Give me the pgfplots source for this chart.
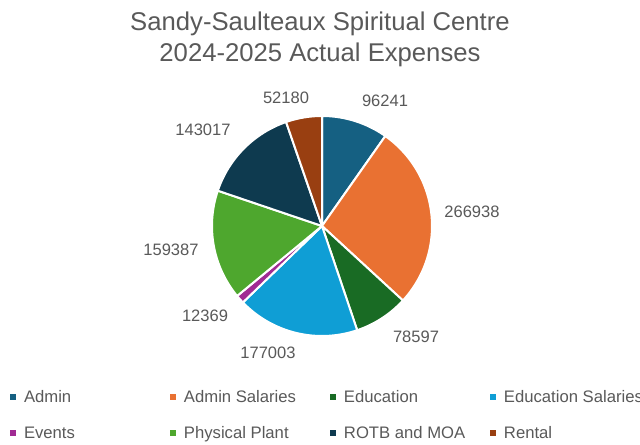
\documentclass[border=0pt]{standalone}
\usepackage{fontspec}
\setmainfont{Liberation Sans}
\usepackage{pgfplots}
\pgfplotsset{compat=1.18}

\definecolor{cA}{HTML}{156082}
\definecolor{cB}{HTML}{E97132}
\definecolor{cC}{HTML}{196B24}
\definecolor{cD}{HTML}{0F9ED5}
\definecolor{cE}{HTML}{A02B93}
\definecolor{cF}{HTML}{4EA72E}
\definecolor{cG}{HTML}{0E3A4F}
\definecolor{cH}{HTML}{993F11}
\definecolor{txtgray}{HTML}{595959}

% data (expenses)
\newcommand\vA{96241}   % Admin
\newcommand\vB{266938}  % Admin Salaries
\newcommand\vC{78597}   % Education
\newcommand\vD{177003}  % Education Salaries
\newcommand\vE{12369}   % Events
\newcommand\vF{159387}  % Physical Plant
\newcommand\vG{143017}  % ROTB and MOA
\newcommand\vH{52180}   % Rental

\edef\T{\fpeval{\vA+\vB+\vC+\vD+\vE+\vF+\vG+\vH}}
\edef\aA{\fpeval{round(90-360*(\vA)/\T,4)}}
\edef\aB{\fpeval{round(90-360*(\vA+\vB)/\T,4)}}
\edef\aC{\fpeval{round(90-360*(\vA+\vB+\vC)/\T,4)}}
\edef\aD{\fpeval{round(90-360*(\vA+\vB+\vC+\vD)/\T,4)}}
\edef\aE{\fpeval{round(90-360*(\vA+\vB+\vC+\vD+\vE)/\T,4)}}
\edef\aF{\fpeval{round(90-360*(\vA+\vB+\vC+\vD+\vE+\vF)/\T,4)}}
\edef\aG{\fpeval{round(90-360*(\vA+\vB+\vC+\vD+\vE+\vF+\vG)/\T,4)}}
\edef\aH{\fpeval{round(90-360*(\vA+\vB+\vC+\vD+\vE+\vF+\vG+\vH)/\T,4)}}

\def\cx{322}
\def\cy{219}
\def\R{110}

\pgfplotsset{
  sqlegend/.style={legend image code/.code={\fill[##1, draw=none] (0pt,-2pt) rectangle (4.5pt,2pt);}},
  slice/.style={forget plot, fill=#1, draw=white, line width=1.5pt, line join=round, samples=61, variable=\t},
}

\begin{document}
\begin{tikzpicture}
\useasboundingbox (0,0) rectangle (480pt,333.75pt);
\begin{axis}[
  at={(0,0)}, anchor=south west,
  x=0.75pt, y=0.75pt,
  xmin=0, xmax=640, ymin=0, ymax=445,
  hide axis, clip=false, enlargelimits=false,
  legend columns=4,
  legend cell align=left,
  legend style={draw=none, fill=none, at={(axis cs:10,56)}, anchor=north west,
    inner sep=0pt, outer sep=0pt, row sep=15pt, column sep=0pt,
    font=\fontsize{12.5}{15}\selectfont, text=txtgray,
    nodes={inner sep=0pt, outer sep=0pt},
    /tikz/every odd column/.append style={column sep=6pt}},
]
\addplot[slice=cA, domain=\aA:90] ({\cx+\R*cos(\t)},{\cy+\R*sin(\t)}) -- (axis cs:\cx,\cy) -- cycle;
\addplot[slice=cB, domain=\aB:\aA] ({\cx+\R*cos(\t)},{\cy+\R*sin(\t)}) -- (axis cs:\cx,\cy) -- cycle;
\addplot[slice=cC, domain=\aC:\aB] ({\cx+\R*cos(\t)},{\cy+\R*sin(\t)}) -- (axis cs:\cx,\cy) -- cycle;
\addplot[slice=cD, domain=\aD:\aC] ({\cx+\R*cos(\t)},{\cy+\R*sin(\t)}) -- (axis cs:\cx,\cy) -- cycle;
\addplot[slice=cE, domain=\aE:\aD] ({\cx+\R*cos(\t)},{\cy+\R*sin(\t)}) -- (axis cs:\cx,\cy) -- cycle;
\addplot[slice=cF, domain=\aF:\aE] ({\cx+\R*cos(\t)},{\cy+\R*sin(\t)}) -- (axis cs:\cx,\cy) -- cycle;
\addplot[slice=cG, domain=\aG:\aF] ({\cx+\R*cos(\t)},{\cy+\R*sin(\t)}) -- (axis cs:\cx,\cy) -- cycle;
\addplot[slice=cH, domain=\aH:\aG] ({\cx+\R*cos(\t)},{\cy+\R*sin(\t)}) -- (axis cs:\cx,\cy) -- cycle;

\addlegendimage{sqlegend, fill=cA}\addlegendentry{\makebox[109.5pt][l]{\strut Admin}}
\addlegendimage{sqlegend, fill=cB}\addlegendentry{\makebox[109.5pt][l]{\strut Admin Salaries}}
\addlegendimage{sqlegend, fill=cC}\addlegendentry{\makebox[109.5pt][l]{\strut Education}}
\addlegendimage{sqlegend, fill=cD}\addlegendentry{\makebox[109.5pt][l]{\strut Education Salaries}}
\addlegendimage{sqlegend, fill=cE}\addlegendentry{\makebox[109.5pt][l]{\strut Events}}
\addlegendimage{sqlegend, fill=cF}\addlegendentry{\makebox[109.5pt][l]{\strut Physical Plant}}
\addlegendimage{sqlegend, fill=cG}\addlegendentry{\makebox[109.5pt][l]{\strut ROTB and MOA}}
\addlegendimage{sqlegend, fill=cH}\addlegendentry{\makebox[109.5pt][l]{\strut Rental}}

\node[align=center, font=\fontsize{19.25}{23.25}\selectfont, text=txtgray, inner sep=0pt] at (axis cs:320,406) {Sandy-Saulteaux Spiritual Centre\\2024-2025 Actual Expenses};

\begin{scope}[every node/.style={font=\fontsize{12.4}{14}\selectfont, text=txtgray, inner sep=0pt}]
\node at (axis cs:385,344) {\vA};
\node at (axis cs:472,233) {\vB};
\node at (axis cs:416,108) {\vC};
\node at (axis cs:268,92) {\vD};
\node at (axis cs:205,129) {\vE};
\node at (axis cs:171,195) {\vF};
\node at (axis cs:203,315) {\vG};
\node at (axis cs:286,347) {\vH};
\end{scope}
\end{axis}
\end{tikzpicture}
\end{document}
